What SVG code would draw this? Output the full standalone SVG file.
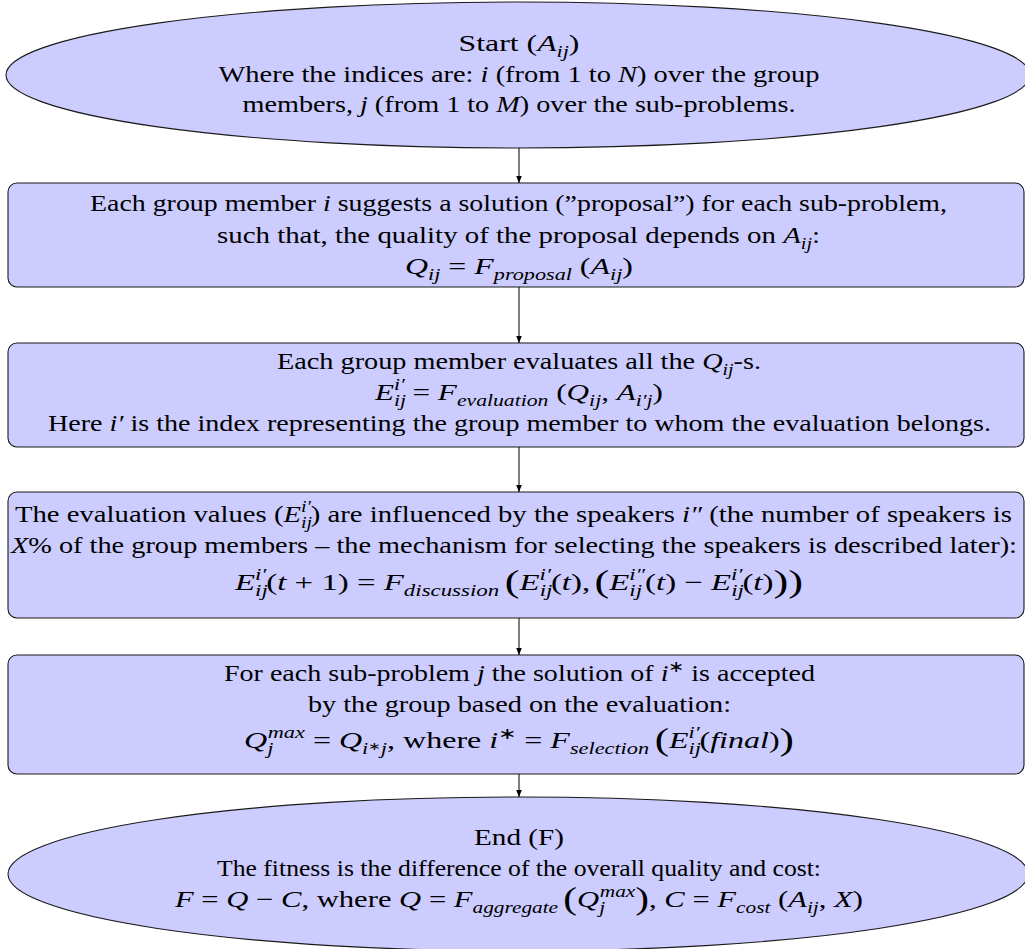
<svg xmlns="http://www.w3.org/2000/svg" width="1025" height="949" viewBox="0 0 1025 949">
<defs>
<marker id="ah" viewBox="0 0 10 10" refX="10" refY="5" markerWidth="7" markerHeight="7" markerUnits="userSpaceOnUse" orient="auto"><path d="M0,1 L10,5 L0,9 z" fill="#000"/></marker>
</defs>
<style>
.shape{fill:#ccccff;stroke:#1a1a1a;stroke-width:1.1}
.t{font-family:"Liberation Serif","Times New Roman",serif;font-size:23px;fill:#000}
.m{font-style:italic}
.s{font-size:16px}
.b{font-size:31px}
.conn line{stroke:#000;stroke-width:1;marker-end:url(#ah)}
</style>
<rect width="1025" height="949" fill="#fff"/>
<g id="start">
<ellipse class="shape" cx="518" cy="75" rx="512" ry="73"/>
<text class="t" x="458.5" y="51" textLength="121" lengthAdjust="spacingAndGlyphs">Start (<tspan class="m">A</tspan><tspan class="m s" dy="6">ij</tspan><tspan dy="-6">)</tspan></text>
<text class="t" x="218.5" y="82" textLength="601" lengthAdjust="spacingAndGlyphs">Where the indices are: <tspan class="m">i</tspan> (from 1 to <tspan class="m">N</tspan>) over the group</text>
<text class="t" x="242.5" y="112" textLength="553" lengthAdjust="spacingAndGlyphs">members, <tspan class="m">j</tspan> (from 1 to <tspan class="m">M</tspan>) over the sub-problems.</text>
</g>
<g id="proposal">
<rect class="shape" x="8" y="183" width="1016" height="104" rx="9"/>
<text class="t" x="90" y="211" textLength="857" lengthAdjust="spacingAndGlyphs">Each group member <tspan class="m">i</tspan> suggests a solution (”proposal”) for each sub-problem,</text>
<text class="t" x="217" y="243" textLength="603" lengthAdjust="spacingAndGlyphs">such that, the quality of the proposal depends on <tspan class="m">A</tspan><tspan class="m s" dy="6">ij</tspan><tspan dy="-6">:</tspan></text>
<text class="t" x="405" y="274" textLength="228" lengthAdjust="spacingAndGlyphs"><tspan class="m">Q</tspan><tspan class="m s" dy="6">ij</tspan><tspan dy="-6"> = </tspan><tspan class="m">F</tspan><tspan class="m s" dy="6">proposal</tspan><tspan dy="-6"> (</tspan><tspan class="m">A</tspan><tspan class="m s" dy="6">ij</tspan><tspan dy="-6">)</tspan></text>
</g>
<g id="evaluation">
<rect class="shape" x="8" y="343" width="1016" height="104" rx="9"/>
<text class="t" x="277" y="369" textLength="484" lengthAdjust="spacingAndGlyphs">Each group member evaluates all the <tspan class="m">Q</tspan><tspan class="m s" dy="6">ij</tspan><tspan dy="-6">-s.</tspan></text>
<text class="t" x="375" y="400" textLength="288" lengthAdjust="spacingAndGlyphs"><tspan class="m">E</tspan><tspan class="m s" dy="6">ij</tspan><tspan class="m s" dx="-9" dy="-16">i′</tspan><tspan dy="10"> = </tspan><tspan class="m">F</tspan><tspan class="m s" dy="6">evaluation</tspan><tspan dy="-6"> (</tspan><tspan class="m">Q</tspan><tspan class="m s" dy="6">ij</tspan><tspan dy="-6">, </tspan><tspan class="m">A</tspan><tspan class="m s" dy="6">i′j</tspan><tspan dy="-6">)</tspan></text>
<text class="t" x="48" y="431" textLength="943" lengthAdjust="spacingAndGlyphs">Here <tspan class="m">i′</tspan> is the index representing the group member to whom the evaluation belongs.</text>
</g>
<g id="discussion">
<rect class="shape" x="8" y="492" width="1016" height="126" rx="9"/>
<text class="t" x="15" y="522" textLength="997" lengthAdjust="spacingAndGlyphs">The evaluation values (<tspan class="m">E</tspan><tspan class="m s" dy="6">ij</tspan><tspan class="m s" dx="-9" dy="-16">i′</tspan><tspan dy="10">) are influenced by the speakers </tspan><tspan class="m">i″</tspan> (the number of speakers is</text>
<text class="t" x="11" y="553" textLength="1006" lengthAdjust="spacingAndGlyphs"><tspan class="m">X</tspan>% of the group members – the mechanism for selecting the speakers is described later):</text>
<text class="t" x="235" y="590" textLength="568" lengthAdjust="spacingAndGlyphs"><tspan class="m">E</tspan><tspan class="m s" dy="6">ij</tspan><tspan class="m s" dx="-9" dy="-16">i′</tspan><tspan dy="10">(</tspan><tspan class="m">t</tspan> + 1) = <tspan class="m">F</tspan><tspan class="m s" dy="6">discussion</tspan><tspan class="b" dy="-4" dx="4">(</tspan><tspan class="m" dy="-2">E</tspan><tspan class="m s" dy="6">ij</tspan><tspan class="m s" dx="-9" dy="-16">i′</tspan><tspan dy="10">(</tspan><tspan class="m">t</tspan>),<tspan class="b" dy="2" dx="3">(</tspan><tspan class="m" dy="-2">E</tspan><tspan class="m s" dy="6">ij</tspan><tspan class="m s" dx="-9" dy="-16">i″</tspan><tspan dy="10">(</tspan><tspan class="m">t</tspan>) − <tspan class="m">E</tspan><tspan class="m s" dy="6">ij</tspan><tspan class="m s" dx="-9" dy="-16">i′</tspan><tspan dy="10">(</tspan><tspan class="m">t</tspan>)<tspan class="b" dy="2">))</tspan></text>
</g>
<g id="selection">
<rect class="shape" x="8" y="655" width="1016" height="119" rx="9"/>
<text class="t" x="224" y="681" textLength="591" lengthAdjust="spacingAndGlyphs">For each sub-problem <tspan class="m">j</tspan> the solution of <tspan class="m">i</tspan><tspan class="s" dy="-9">∗</tspan><tspan dy="9"> is accepted</tspan></text>
<text class="t" x="308" y="712" textLength="423" lengthAdjust="spacingAndGlyphs">by the group based on the evaluation:</text>
<text class="t" x="244" y="748" textLength="550" lengthAdjust="spacingAndGlyphs"><tspan class="m">Q</tspan><tspan class="m s" dy="6">j</tspan><tspan class="m s" dx="-4" dy="-16">max</tspan><tspan dy="10"> = </tspan><tspan class="m">Q</tspan><tspan class="m s" dy="6">i</tspan><tspan style="font-size:11px" dy="-4">∗</tspan><tspan class="m s" dy="4">j</tspan><tspan dy="-6">, where </tspan><tspan class="m">i</tspan><tspan class="s" dy="-9">∗</tspan><tspan dy="9"> = </tspan><tspan class="m">F</tspan><tspan class="m s" dy="6">selection</tspan><tspan class="b" dy="-4" dx="4">(</tspan><tspan class="m" dy="-2">E</tspan><tspan class="m s" dy="6">ij</tspan><tspan class="m s" dx="-9" dy="-16">i′</tspan><tspan dy="10">(</tspan><tspan class="m">final</tspan>)<tspan class="b" dy="2">)</tspan></text>
</g>
<g id="end">
<ellipse class="shape" cx="518" cy="874" rx="510" ry="77"/>
<text class="t" x="474" y="845" textLength="90" lengthAdjust="spacingAndGlyphs">End (F)</text>
<text class="t" x="217" y="876" textLength="604" lengthAdjust="spacingAndGlyphs">The fitness is the difference of the overall quality and cost:</text>
<text class="t" x="175" y="907" textLength="688" lengthAdjust="spacingAndGlyphs"><tspan class="m">F</tspan> = <tspan class="m">Q</tspan> − <tspan class="m">C</tspan>, where <tspan class="m">Q</tspan> = <tspan class="m">F</tspan><tspan class="m s" dy="6">aggregate</tspan><tspan class="b" dy="-4" dx="4">(</tspan><tspan class="m" dy="-2">Q</tspan><tspan class="m s" dy="6">j</tspan><tspan class="m s" dx="-4" dy="-16">max</tspan><tspan class="b" dy="12">)</tspan><tspan dy="-2">, </tspan><tspan class="m">C</tspan> = <tspan class="m">F</tspan><tspan class="m s" dy="6">cost</tspan><tspan dy="-6"> (</tspan><tspan class="m">A</tspan><tspan class="m s" dy="6">ij</tspan><tspan dy="-6">, </tspan><tspan class="m">X</tspan>)</text>
</g>
<g id="connectors" class="conn">
<line x1="519" y1="148" x2="519" y2="183"/>
<line x1="519" y1="287" x2="519" y2="343"/>
<line x1="519" y1="447" x2="519" y2="492"/>
<line x1="519" y1="618" x2="519" y2="655"/>
<line x1="519" y1="774" x2="519" y2="797"/>
</g>
</svg>
